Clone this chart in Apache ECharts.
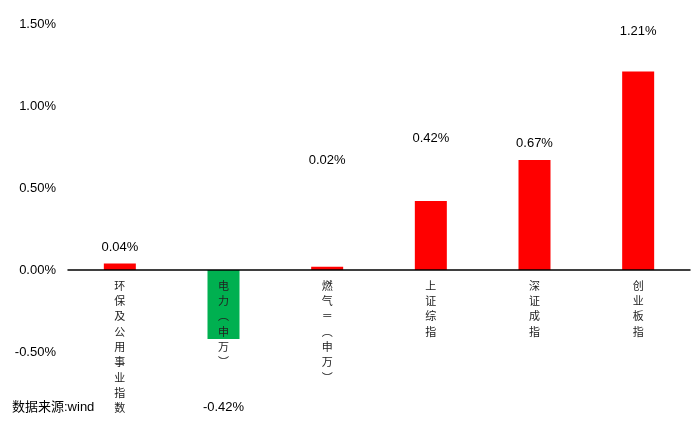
<!DOCTYPE html>
<html>
<head>
<meta charset="utf-8">
<script src="https://cdn.jsdelivr.net/npm/echarts@6/dist/echarts.min.js"></script>
<style>html,body{margin:0;padding:0;background:#fff}#c{width:700px;height:445px}</style>
</head>
<body>
<div id="c"></div>
<script>
const categories = ['环保及公用事业指数', '电力（申万）', '燃气Ⅱ（申万）', '上证综指', '深证成指', '创业板指'];
const values = [0.04, -0.42, 0.02, 0.42, 0.67, 1.21];
const yTicks = [-0.5, 0, 0.5, 1.0, 1.5];
const sourceNote = '数据来源:wind';

// styling (not data)
const barColors = ['#FF0000', '#00B050', '#FF0000', '#FF0000', '#FF0000', '#FF0000'];
const labelDistances = [10, 62, 100, 56, 10, 34];

const chart = echarts.init(document.getElementById('c'), null, {renderer: 'canvas'});
const vmap = {'（': '︵', '）': '︶', 'Ⅱ': '＝'};
const gridBottom = 93;
const plotH = 445 - 24 - gridBottom;
const zeroOffset = plotH * (0 - yTicks[0]) / (yTicks[yTicks.length - 1] - yTicks[0]);
chart.setOption({
  animation: false,
  backgroundColor: '#fff',
  title: {
    text: sourceNote, left: 7, top: 396,
    textStyle: {fontSize: 13, fontWeight: 'normal', color: '#000', fontFamily: 'Liberation Sans, Noto Sans CJK SC'}
  },
  grid: {left: 68, right: 10, top: 24, bottom: gridBottom, containLabel: false, outerBoundsMode: 'none'},
  xAxis: {
    type: 'category', data: categories, z: 5,
    offset: -zeroOffset,
    axisLine: {onZero: false, lineStyle: {color: '#000', width: 1.5}},
    axisTick: {show: false},
    axisLabel: {
      interval: 0, margin: 8, fontSize: 11, lineHeight: 15.3, color: '#222',
      fontFamily: 'Noto Sans CJK SC',
      formatter: n => n.split('').map(ch => vmap[ch] || ch).join('\n')
    }
  },
  yAxis: {
    type: 'value', min: yTicks[0], max: yTicks[yTicks.length - 1], interval: 0.5,
    axisLine: {show: false}, axisTick: {show: false}, splitLine: {show: false},
    axisLabel: {margin: 12, fontSize: 13, color: '#000', fontFamily: 'Liberation Sans',
      formatter: v => v.toFixed(2) + '%'}
  },
  series: [{
    type: 'bar', barWidth: 32, z: 2,
    data: values.map((v, i) => ({
      value: v,
      itemStyle: {color: barColors[i]},
      label: {show: true, position: v < 0 ? 'bottom' : 'top', distance: labelDistances[i]}
    })),
    label: {fontSize: 13, color: '#000', fontFamily: 'Liberation Sans',
      formatter: p => p.value.toFixed(2) + '%'}
  }]
});
</script>
</body>
</html>
